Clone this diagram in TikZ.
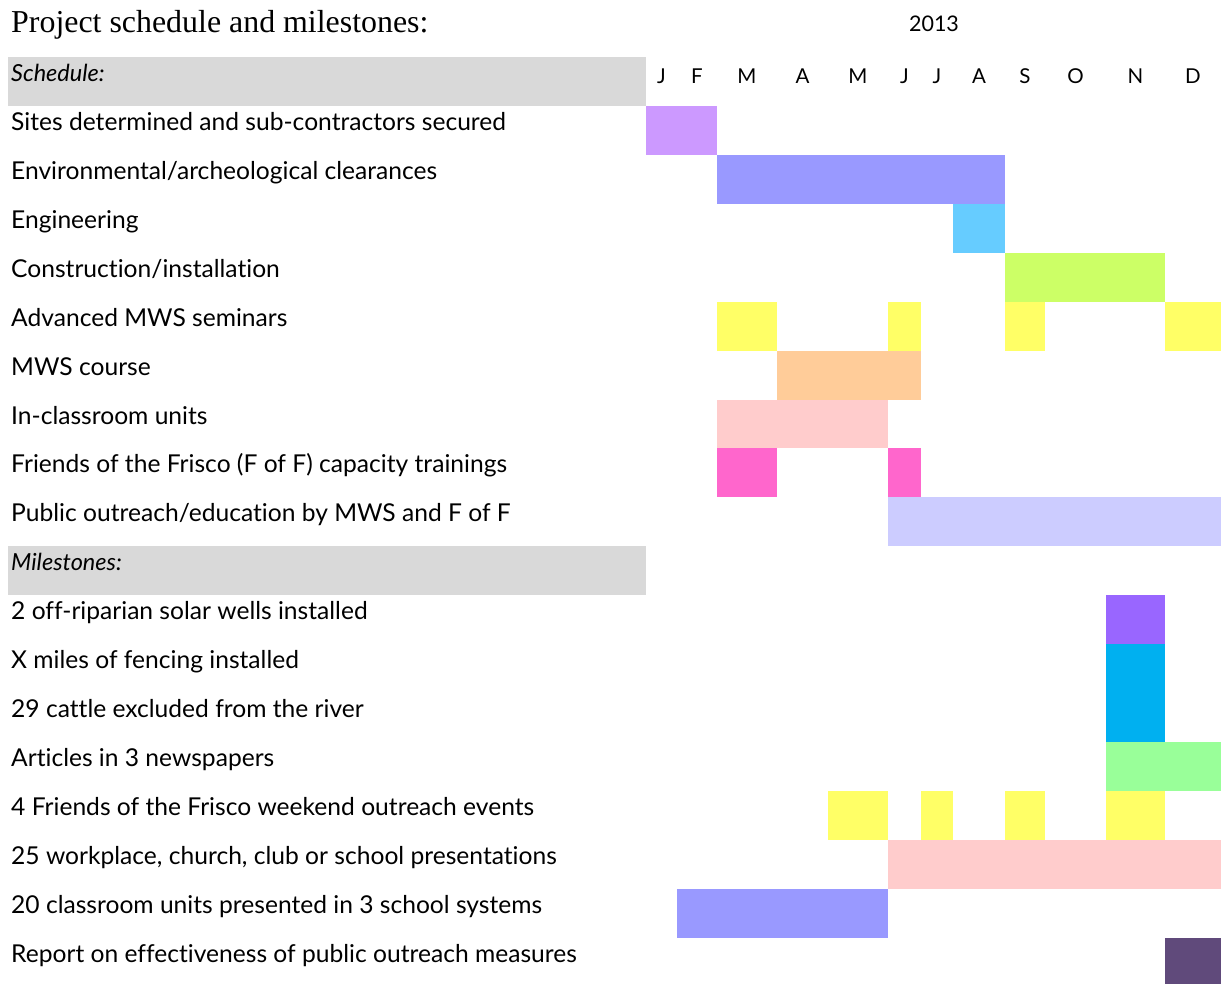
\documentclass[tikz,border=0pt]{standalone}
\usepackage{fontspec}
\setmainfont{Liberation Serif}
\newfontfamily\gs[Ligatures={NoCommon,NoRare,NoDiscretionary}]{Lato}
\definecolor{bandgray}{HTML}{D9D9D9}
\definecolor{lilac}{HTML}{CC99FF}
\definecolor{periw}{HTML}{9999FF}
\definecolor{sky}{HTML}{66CCFF}
\definecolor{lime}{HTML}{CCFF66}
\definecolor{ylw}{HTML}{FFFF66}
\definecolor{peach}{HTML}{FFCC99}
\definecolor{rose}{HTML}{FFCCCC}
\definecolor{magen}{HTML}{FF66CC}
\definecolor{lav}{HTML}{CCCCFF}
\definecolor{purp}{HTML}{9966FF}
\definecolor{cyn}{HTML}{00B0F0}
\definecolor{mint}{HTML}{99FF99}
\definecolor{dpurp}{HTML}{604A7B}
\begin{document}
\begin{tikzpicture}[x=1pt,y=-1pt,
  lbl/.style={anchor=base west,inner sep=0pt,font=\gs\fontsize{24.6}{28}\selectfont},
  hdr/.style={lbl,font=\gs\itshape\fontsize{23.5}{28}\selectfont},
  mon/.style={anchor=base,inner sep=0pt,font=\gs\fontsize{20.5}{24}\selectfont}]
\useasboundingbox[fill=white] (0,0) rectangle (1221,983);
\foreach \x [count=\i from 0] in {646,677,717,777,828,888,921,953,1005,1045,1106,1165,1221}
  \coordinate (c\i) at (\x,0);
\foreach \k in {0,...,19}
  \coordinate (r\k) at (0,{57+48.93*\k});
% gray bands
\fill[bandgray] (8,0|-r0) rectangle (c0|-r1);
\fill[bandgray] (8,0|-r10) rectangle (c0|-r11);
% bars
\newcommand\gbar[4]{\fill[#4] (c#1|-r#3) rectangle (c#2|-r\the\numexpr#3+1\relax);}
\gbar{0}{2}{1}{lilac}
\gbar{2}{8}{2}{periw}
\gbar{7}{8}{3}{sky}
\gbar{8}{11}{4}{lime}
\gbar{2}{3}{5}{ylw}\gbar{5}{6}{5}{ylw}\gbar{8}{9}{5}{ylw}\gbar{11}{12}{5}{ylw}
\gbar{3}{6}{6}{peach}
\gbar{2}{5}{7}{rose}
\gbar{2}{3}{8}{magen}\gbar{5}{6}{8}{magen}
\gbar{5}{12}{9}{lav}
\gbar{10}{11}{11}{purp}
\fill[cyn] (c10|-r12) rectangle (c11|-r14);
\gbar{10}{12}{14}{mint}
\gbar{4}{5}{15}{ylw}\gbar{6}{7}{15}{ylw}\gbar{8}{9}{15}{ylw}\gbar{10}{11}{15}{ylw}
\gbar{5}{12}{16}{rose}
\gbar{1}{5}{17}{periw}
\fill[dpurp] (c11|-r18) rectangle (c12|-r19);
% title
\node[anchor=base west,inner sep=0pt,font=\fontsize{31.9}{36}\selectfont] (title) at (11,32) {Project schedule and milestones:};
\node[anchor=base,inner sep=0pt,font=\gs\fontsize{21.5}{25}\selectfont] (year) at (934,31) {2013};
% months
\foreach \m [count=\i from 0] in {J,F,M,A,M,J,J,A,S,O,N,D}{
  \pgfmathtruncatemacro\j{\i+1}
  \path (c\i) -- (c\j) coordinate[midway] (mc\i);
  \node[mon] (m\i) at (mc\i|-0,83) {\m};
}
% labels
\newcommand\rlab[3]{\node[#1] (t#2) at (11,{57+48.93*#2+24.5}) {#3};}
\rlab{hdr}{0}{Schedule:}
\rlab{lbl}{1}{Sites determined and sub-contractors secured}
\rlab{lbl}{2}{Environmental/archeological clearances}
\rlab{lbl}{3}{Engineering}
\rlab{lbl}{4}{Construction/installation}
\rlab{lbl}{5}{Advanced MWS seminars}
\rlab{lbl}{6}{MWS course}
\rlab{lbl}{7}{In-classroom units}
\rlab{lbl}{8}{Friends of the Frisco (F of F) capacity trainings}
\rlab{lbl}{9}{Public outreach/education by MWS and F of F}
\rlab{hdr}{10}{Milestones:}
\rlab{lbl}{11}{2 off-riparian solar wells installed}
\rlab{lbl}{12}{X miles of fencing installed}
\rlab{lbl}{13}{29 cattle excluded from the river}
\rlab{lbl}{14}{Articles in 3 newspapers}
\rlab{lbl}{15}{4 Friends of the Frisco weekend outreach events}
\rlab{lbl}{16}{25 workplace, church, club or school presentations}
\rlab{lbl}{17}{20 classroom units presented in 3 school systems}
\rlab{lbl}{18}{Report on effectiveness of public outreach measures}
\end{tikzpicture}
\end{document}
